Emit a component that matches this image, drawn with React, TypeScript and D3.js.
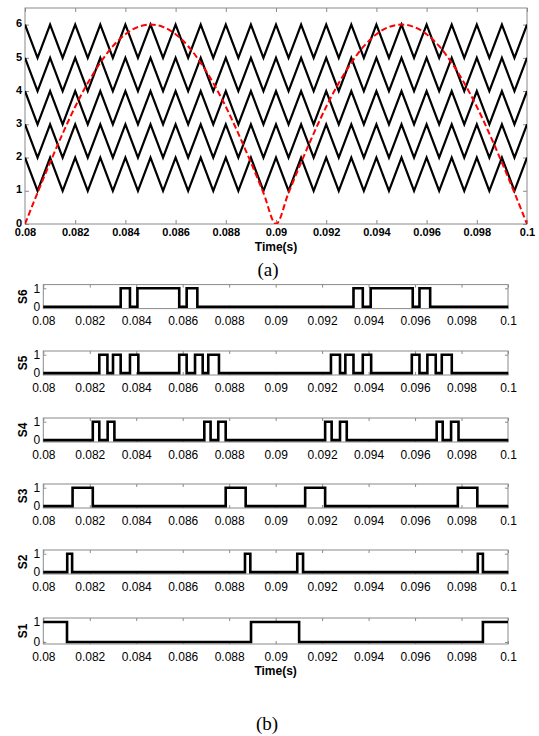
import React, { useEffect, useRef } from "react";
import * as d3 from "d3";

// time axis ticks (shared by every panel)
const timeTicks = [0.08, 0.082, 0.084, 0.086, 0.088, 0.09, 0.092, 0.094, 0.096, 0.098, 0.1];
const timeTickLabels = ["0.08", "0.082", "0.084", "0.086", "0.088", "0.09", "0.092", "0.094", "0.096", "0.098", "0.1"];
const levelTicks = [0, 1, 2, 3, 4, 5, 6];

// triangular carriers: vertex times and unit shape (peak = 1, trough = 0)
const carrierBases = [1, 2, 3, 4, 5];
const carrierT = [
    0.08, 0.0805, 0.081, 0.0815, 0.082, 0.0825, 0.083, 0.0835, 0.084, 0.0845,
    0.085, 0.0855, 0.086, 0.0865, 0.087, 0.0875, 0.088, 0.0885, 0.089, 0.0895,
    0.09, 0.0905, 0.091, 0.0915, 0.092, 0.0925, 0.093, 0.0935, 0.094, 0.0945,
    0.095, 0.0955, 0.096, 0.0965, 0.097, 0.0975, 0.098, 0.0985, 0.099, 0.0995, 0.1
];
const carrierShape = [
    1, 0, 1, 0, 1, 0, 1, 0, 1, 0,
    1, 0, 1, 0, 1, 0, 1, 0, 1, 0,
    1, 0, 1, 0, 1, 0, 1, 0, 1, 0,
    1, 0, 1, 0, 1, 0, 1, 0, 1, 0, 1
];

// red dashed reference (at the carrier vertex times)
const refV = [
    0, 0.94, 1.85, 2.72, 3.53, 4.24, 4.85, 5.35, 5.71, 5.93,
    6, 5.93, 5.71, 5.35, 4.85, 4.24, 3.53, 2.72, 1.85, 0.94,
    0, 0.94, 1.85, 2.72, 3.53, 4.24, 4.85, 5.35, 5.71, 5.93,
    6, 5.93, 5.71, 5.35, 4.85, 4.24, 3.53, 2.72, 1.85, 0.94, 0
];

// switching signals: name, initial state, toggle times
const switchNames = ["S6", "S5", "S4", "S3", "S2", "S1"];
const switchStart = [0, 0, 0, 0, 0, 1];
const s6Edges = [0.08333, 0.08373, 0.08405, 0.08585, 0.08617, 0.08663, 0.09335, 0.09375, 0.09409, 0.0959, 0.09619, 0.09665];
const s5Edges = [
    0.08241, 0.08276, 0.0830, 0.08333, 0.08373, 0.08409, 0.08585, 0.08617, 0.08653, 0.08686, 0.0871, 0.08756,
    0.09238, 0.09277, 0.0930, 0.09335, 0.09375, 0.09411, 0.09586, 0.09619, 0.09653, 0.09689, 0.09715, 0.09758
];
const s4Edges = [
    0.08213, 0.08241, 0.08277, 0.08306, 0.08693, 0.0872, 0.08753, 0.08785,
    0.09213, 0.09241, 0.09277, 0.09306, 0.09693, 0.09719, 0.09755, 0.09787
];
const s3Edges = [0.08126, 0.08213, 0.08785, 0.08871, 0.09127, 0.09213, 0.09784, 0.09868];
const s2Edges = [0.08103, 0.08124, 0.08868, 0.08891, 0.09093, 0.09118, 0.0987, 0.09892];
const s1Edges = [0.08102, 0.08894, 0.09101, 0.09892];
const switchEdges = [s6Edges, s5Edges, s4Edges, s3Edges, s2Edges, s1Edges];

const W = 539;
const H = 736;
const grey = "#8a8a8a";
const sans = "'Liberation Sans', Arial, sans-serif";

const top = { left: 25, right: 527, top: 8, bottom: 224 };
const sub = { left: 43.3, right: 508 };
const subTops = [284.6, 351, 418, 484, 550, 618];
const subHeights = [24, 24, 24, 24, 24, 26];

type Sel = d3.Selection<SVGSVGElement | null, unknown, null, undefined>;

function styleAxis(g: d3.Selection<SVGGElement, unknown, null, undefined>, size: number, weight: string) {
    g.select(".domain").remove();
    g.selectAll(".tick line").attr("stroke", grey).attr("stroke-width", 1);
    g.selectAll(".tick text")
        .attr("fill", "#000")
        .style("font-family", sans)
        .style("font-size", size + "px")
        .style("font-weight", weight);
}

export default function App() {
    const ref = useRef<SVGSVGElement>(null);

    useEffect(() => {
        const svg = d3.select(ref.current) as Sel;
        svg.selectAll("*").remove();
        drawTop(svg);
        switchNames.forEach((_, i) => drawSwitch(svg, i));
    }, []);

    function drawTop(svg: Sel) {
        const x = d3.scaleLinear().domain([0.08, 0.1]).range([top.left, top.right]);
        const y = d3.scaleLinear().domain([0, 6.5]).range([top.bottom, top.top]);

        svg.append("clipPath").attr("id", "clipTop")
            .append("rect")
            .attr("x", top.left).attr("y", top.top)
            .attr("width", top.right - top.left).attr("height", top.bottom - top.top);

        svg.append("rect")
            .attr("x", top.left).attr("y", top.top)
            .attr("width", top.right - top.left).attr("height", top.bottom - top.top)
            .attr("fill", "white").attr("stroke", grey).attr("stroke-width", 1);

        const gb = svg.append("g").attr("transform", `translate(0,${top.bottom})`)
            .call(d3.axisBottom(x).tickValues(timeTicks).tickSizeInner(-4).tickSizeOuter(0).tickPadding(4)
                .tickFormat((_, i) => timeTickLabels[i]));
        styleAxis(gb, 11, "bold");
        const gt = svg.append("g").attr("transform", `translate(0,${top.top})`)
            .call(d3.axisTop(x).tickValues(timeTicks).tickSizeInner(-4).tickSizeOuter(0).tickFormat(() => ""));
        styleAxis(gt, 11, "bold");
        const gl = svg.append("g").attr("transform", `translate(${top.left},0)`)
            .call(d3.axisLeft(y).tickValues(levelTicks).tickSizeInner(-4).tickSizeOuter(0).tickPadding(3)
                .tickFormat(d3.format("d")));
        styleAxis(gl, 11, "bold");
        // lift the labels a touch so "0" clears "0.08"
        gl.selectAll(".tick text").attr("dy", "0.2em");
        const gr = svg.append("g").attr("transform", `translate(${top.right},0)`)
            .call(d3.axisRight(y).tickValues(levelTicks).tickSizeInner(-4).tickSizeOuter(0).tickFormat(() => ""));
        styleAxis(gr, 11, "bold");

        const plot = svg.append("g").attr("clip-path", "url(#clipTop)");
        carrierBases.forEach(b => {
            const pts: [number, number][] = carrierT.map((t, i) => [t, b + carrierShape[i]]);
            plot.append("path")
                .datum(pts)
                .attr("fill", "none")
                .attr("stroke", "#000")
                .attr("stroke-width", 2.2)
                .attr("d", d3.line().x(d => x(d[0])).y(d => y(d[1])));
        });

        const refPts: [number, number][] = carrierT.map((t, i) => [t, refV[i]]);
        plot.append("path")
            .datum(refPts)
            .attr("fill", "none")
            .attr("stroke", "#ff0000")
            .attr("stroke-width", 2)
            .attr("stroke-dasharray", "6,3")
            .attr("d", d3.line().curve(d3.curveMonotoneX).x(d => x(d[0])).y(d => y(d[1])));

        svg.append("text")
            .attr("x", (top.left + top.right) / 2).attr("y", 251)
            .attr("text-anchor", "middle")
            .style("font-family", sans).style("font-size", "12px").style("font-weight", "bold")
            .text("Time(s)");
        svg.append("text")
            .attr("x", 268).attr("y", 276)
            .attr("text-anchor", "middle")
            .style("font-family", "'Liberation Serif', 'Times New Roman', serif").style("font-size", "19px")
            .text("(a)");
    }

    function drawSwitch(svg: Sel, i: number) {
        const t0 = subTops[i];
        const h = subHeights[i];
        const x = d3.scaleLinear().domain([0.08, 0.1]).range([sub.left, sub.right]);
        const y = d3.scaleLinear().domain([-0.1, 1.2]).range([t0 + h, t0]);

        svg.append("rect")
            .attr("x", sub.left).attr("y", t0)
            .attr("width", sub.right - sub.left).attr("height", h)
            .attr("fill", "white").attr("stroke", grey).attr("stroke-width", 1);

        const gb = svg.append("g").attr("transform", `translate(0,${t0 + h})`)
            .call(d3.axisBottom(x).tickValues(timeTicks).tickSizeInner(-3).tickSizeOuter(0).tickPadding(8)
                .tickFormat((_, k) => timeTickLabels[k]));
        styleAxis(gb, 12, "normal");
        const gt = svg.append("g").attr("transform", `translate(0,${t0})`)
            .call(d3.axisTop(x).tickValues(timeTicks).tickSizeInner(-3).tickSizeOuter(0).tickFormat(() => ""));
        styleAxis(gt, 12, "normal");
        const gl = svg.append("g").attr("transform", `translate(${sub.left},0)`)
            .call(d3.axisLeft(y).tickValues([0, 1]).tickSizeInner(-3).tickSizeOuter(0).tickPadding(3)
                .tickFormat(d3.format("d")));
        styleAxis(gl, 12, "normal");
        const gr = svg.append("g").attr("transform", `translate(${sub.right},0)`)
            .call(d3.axisRight(y).tickValues([0, 1]).tickSizeInner(-3).tickSizeOuter(0).tickFormat(() => ""));
        styleAxis(gr, 12, "normal");

        let state = switchStart[i];
        const pts: [number, number][] = [[0.08, state]];
        switchEdges[i].forEach(e => {
            state = 1 - state;
            pts.push([e, state]);
        });
        pts.push([0.1, state]);

        svg.append("path")
            .datum(pts)
            .attr("fill", "none")
            .attr("stroke", "#000")
            .attr("stroke-width", 2.6)
            .attr("d", d3.line().curve(d3.curveStepAfter).x(d => x(d[0])).y(d => y(d[1])));

        svg.append("text")
            .attr("transform", `translate(27,${t0 + h / 2}) rotate(-90)`)
            .attr("text-anchor", "middle")
            .style("font-family", sans).style("font-size", "12px").style("font-weight", "bold")
            .text(switchNames[i]);

        if (i === switchNames.length - 1) {
            svg.append("text")
                .attr("x", (sub.left + sub.right) / 2).attr("y", 675)
                .attr("text-anchor", "middle")
                .style("font-family", sans).style("font-size", "12px").style("font-weight", "bold")
                .text("Time(s)");
            svg.append("text")
                .attr("x", 267).attr("y", 730)
                .attr("text-anchor", "middle")
                .style("font-family", "'Liberation Serif', 'Times New Roman', serif").style("font-size", "19px")
                .text("(b)");
        }
    }

    return (
        <svg
            ref={ref}
            width={W}
            height={H}
            style={{ position: "absolute", left: 0, top: 0, backgroundColor: "white" }}
        />
    );
}
